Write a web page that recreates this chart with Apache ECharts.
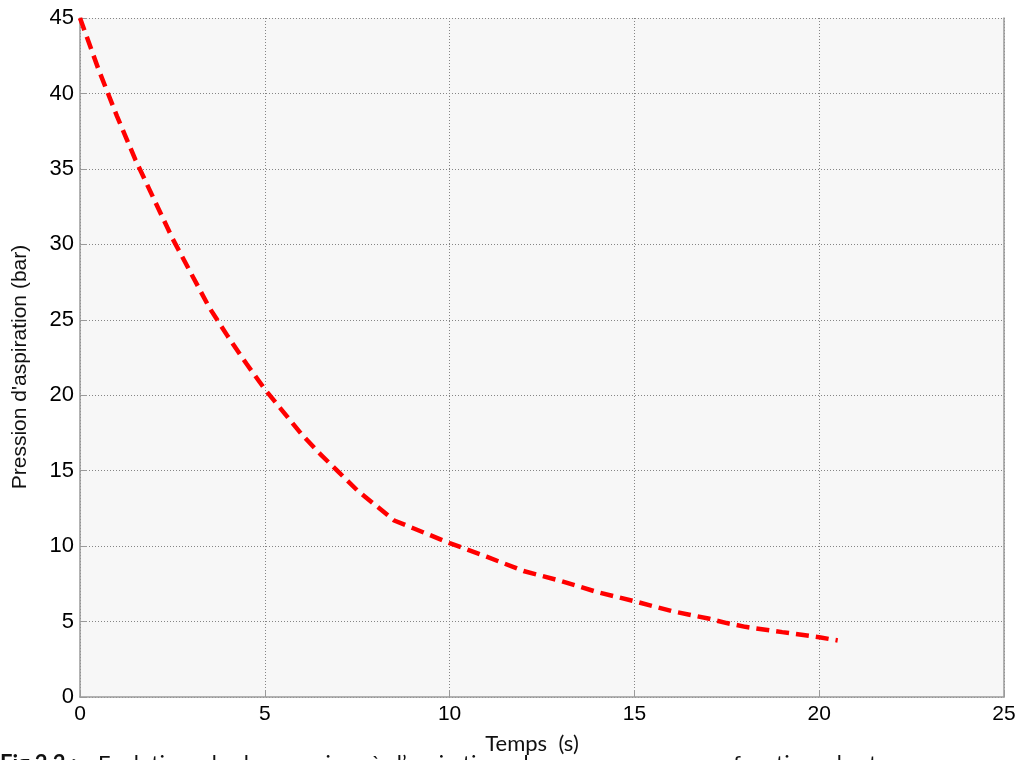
<!DOCTYPE html>
<html>
<head>
<meta charset="utf-8">
<script src="https://cdn.jsdelivr.net/npm/echarts@6/dist/echarts.min.js"></script>
<style>
html,body{margin:0;padding:0;background:#fff;overflow:hidden;}
#chart{width:1022px;height:760px;}
</style>
</head>
<body>
<div id="chart"></div>
<script>
// Time (s)
var times = [0, 0.5, 1, 1.5, 2, 2.5, 3, 3.5, 4, 4.5, 5, 5.5, 6, 6.5, 7, 7.5, 8, 8.5, 9, 10, 11, 12, 13, 14, 15, 16, 17, 17.5, 18, 19, 20, 20.5];
// Suction pressure (bar)
var pressures = [45, 41.6, 38.5, 35.6, 33.0, 30.4, 28.1, 25.8, 23.9, 22.1, 20.4, 18.9, 17.4, 16.1, 14.9, 13.7, 12.7, 11.7, 11.2, 10.2, 9.3, 8.35, 7.7, 6.95, 6.35, 5.7, 5.2, 4.9, 4.65, 4.3, 3.96, 3.75];
var xTicks = [0, 5, 10, 15, 20, 25];
var yTicks = [0, 5, 10, 15, 20, 25, 30, 35, 40, 45];
var xTitle = 'Temps  (s)';
var yTitle = "Pression d'aspiration (bar)";
var captionBold = 'Fig.2.2 :';
var captionWords = ['Evolution', 'de', 'la', 'pression', 'à', 'l\u2019aspiration', 'du', 'compresseur', 'en', 'fonction', 'du', 'temps'];

var seriesData = times.map(function (t, i) { return [t, pressures[i]]; });

// lay out justified caption words (measured widths + wider word gaps)
var capFont = '22px Lato, "Open Sans", sans-serif';
var mctx = document.createElement('canvas').getContext('2d');
mctx.font = capFont;
var spaceW = mctx.measureText(' ').width + 9.5;
var captionGraphics = [];
var cx = 98;
captionWords.forEach(function (w) {
  captionGraphics.push({type: 'text', x: cx, y: 753, style: {text: w, font: capFont, fill: '#111'}});
  cx += mctx.measureText(w).width + spaceW;
});

var chart = echarts.init(document.getElementById('chart'), null, {renderer: 'canvas'});
var gridGray = '#858585';
chart.setOption({
  animation: false,
  backgroundColor: '#ffffff',
  grid: {left: 80, right: 18, top: 18, bottom: 63, show: true, backgroundColor: '#f7f7f7', borderWidth: 0},
  xAxis: {
    type: 'value', min: xTicks[0], max: xTicks[xTicks.length - 1], interval: 5,
    axisLine: {show: true, lineStyle: {color: '#9a9a9a', width: 1.5}},
    axisTick: {show: true, inside: true, length: 7, lineStyle: {color: '#9a9a9a'}},
    axisLabel: {color: '#000', fontFamily: 'Liberation Sans, Arial', fontSize: 21, margin: 7},
    splitLine: {show: true, lineStyle: {color: gridGray, type: [1, 2], width: 1}}
  },
  yAxis: [{
    type: 'value', min: yTicks[0], max: yTicks[yTicks.length - 1], interval: 5,
    axisLine: {show: true, lineStyle: {color: '#9a9a9a', width: 1.5}},
    axisTick: {show: true, inside: true, length: 7, lineStyle: {color: '#9a9a9a'}},
    axisLabel: {color: '#000', fontFamily: 'Liberation Sans, Arial', fontSize: 22, margin: 6},
    splitLine: {show: true, lineStyle: {color: gridGray, type: [1, 2], width: 1}}
  }, {
    type: 'value', min: yTicks[0], max: yTicks[yTicks.length - 1], interval: 5, position: 'right',
    axisLine: {show: true, lineStyle: {color: '#9a9a9a', width: 1.5}},
    axisTick: {show: false}, axisLabel: {show: false}, splitLine: {show: false}
  }],
  series: [{
    type: 'line', data: seriesData, showSymbol: false, symbol: 'none', smooth: false,
    lineStyle: {color: '#ff0000', width: 4.5, type: [13, 7], cap: 'butt'},
    clip: true
  }],
  graphic: [
    {type: 'text', x: 532, y: 733, style: {text: xTitle, font: '22px Lato, "Open Sans", sans-serif', fill: '#111', align: 'center'}},
    {type: 'text', x: 20, y: 367, rotation: Math.PI / 2, style: {text: yTitle, font: '21px "Liberation Sans", Arial, sans-serif', fill: '#111', align: 'center', verticalAlign: 'middle'}},
    {type: 'text', x: 0, y: 753, style: {text: captionBold, font: 'bold 22px Lato, "Open Sans", sans-serif', fill: '#111'}}
  ].concat(captionGraphics)
});
</script>
</body>
</html>
